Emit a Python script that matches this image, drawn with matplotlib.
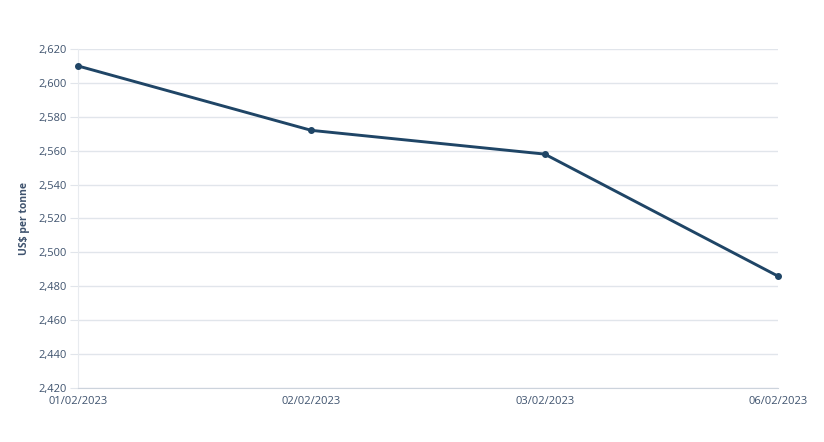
import matplotlib.pyplot as plt
from matplotlib.ticker import FuncFormatter

dates = ['01/02/2023', '02/02/2023', '03/02/2023', '06/02/2023']
prices = [2610, 2572, 2558, 2486]
y_ticks = list(range(2420, 2621, 20))

plt.rcParams['font.family'] = ['Open Sans', 'DejaVu Sans']
text_col = '#3f536e'
grid_col = '#e1e5eb'

fig = plt.figure(figsize=(8.24, 4.42), dpi=100)
ax = fig.add_axes([78 / 824, 1 - 388 / 442, 700 / 824, 339 / 442])

x = list(range(len(dates)))
ax.plot(x, prices, color='#1f4566', linewidth=2.1, marker='o', markersize=4,
        zorder=3, clip_on=False)

ax.set_xlim(0, len(dates) - 1)
ax.set_ylim(2420, 2620)
ax.set_yticks(y_ticks)
ax.yaxis.set_major_formatter(FuncFormatter(lambda v, p: f'{int(v):,}'))
ax.set_xticks(x)
ax.set_xticklabels(dates)

ax.grid(axis='y', color=grid_col, linewidth=1)
ax.set_axisbelow(True)
for s in ['top', 'right']:
    ax.spines[s].set_visible(False)
ax.spines['left'].set_color('#e8ebef')
ax.spines['bottom'].set_color('#ccd3dc')
ax.tick_params(axis='y', length=6, color=grid_col, labelsize=8, labelcolor=text_col, pad=2)
ax.tick_params(axis='x', length=0, labelsize=8, labelcolor=text_col, pad=6)

ax.set_ylabel('US$ per tonne', fontsize=7.5, fontweight='bold', color=text_col, labelpad=6)

fig.savefig('out.png', dpi=100)
